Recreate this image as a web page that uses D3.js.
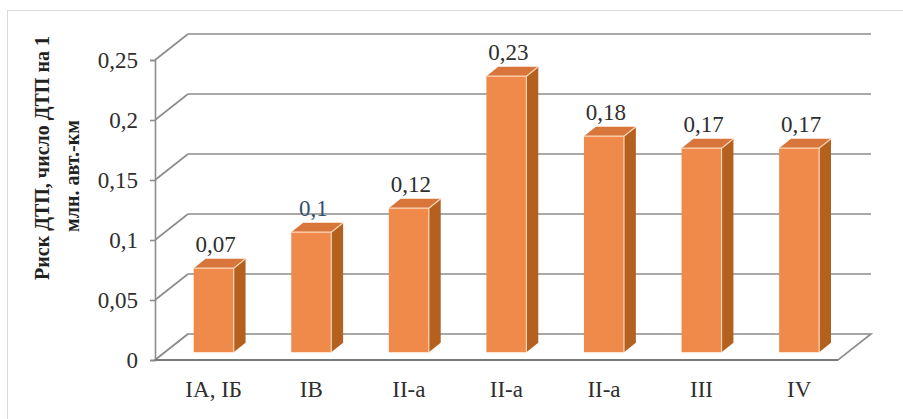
<!DOCTYPE html>
<html>
<head>
<meta charset="utf-8">
<script src="https://cdn.jsdelivr.net/npm/d3@7"></script>
<style>
  body { margin: 0; background: #fff; }
  svg { display: block; }
  text { font-family: "Liberation Serif", "Times New Roman", Times, serif; }
</style>
</head>
<body>
<svg id="chart" width="903" height="419"></svg>
<script>
const categories = ['IA, IБ', 'IВ', 'II-a', 'II-a', 'II-a', 'III', 'IV']
const values = [0.07, 0.1, 0.12, 0.23, 0.18, 0.17, 0.17]
const labels = ['0,07', '0,1', '0,12', '0,23', '0,18', '0,17', '0,17']
const yTicks = [0, 0.05, 0.1, 0.15, 0.2, 0.25]
const yTitle = ['Риск ДТП, число ДТП на 1', 'млн. авт.-км']

const gridColor = '#8c8c8c'
const frontColor = '#f08a4a'
const topColor = '#d8753a'
const sideColor = '#b4601f'
const edgeColor = '#fcd6b6'
const textColor = '#2e2e2e'
const textSize = 23

// plot frame (front plane) and depth of the box
const plotLeft = 155
const plotRight = 838
const plotBottom = 360
const plotTop = 60
const depth = [33, -26]
const barZ = [0.3, 0.66]

const proj = (x, y, z) => [x + depth[0] * z, y + depth[1] * z]

const svg = d3.select('#chart')

svg.append('rect')
  .attr('x', 7.5)
  .attr('y', 10.5)
  .attr('width', 900)
  .attr('height', 420)
  .attr('fill', '#fff')
  .attr('stroke', '#d9d9d9')

const y = d3.scaleLinear()
  .domain([0, 0.25])
  .range([plotBottom, plotTop])

const x = d3.scaleBand()
  .domain(d3.range(categories.length))
  .range([plotLeft, plotRight])
  .paddingInner(0.59)
  .paddingOuter(0.295)

// back wall gridlines and left wall diagonals
const grid = svg.append('g').classed('grid', true)
yTicks.forEach((t) => {
  const [bx, by] = proj(plotLeft, y(t), 1)
  const [ex] = proj(plotRight, y(t), 1)
  grid.append('line')
    .attr('x1', plotLeft).attr('y1', y(t))
    .attr('x2', bx).attr('y2', by)
    .attr('stroke', gridColor).attr('stroke-width', 1.6)
  if (t > 0) {
    grid.append('line')
      .attr('x1', bx).attr('y1', by)
      .attr('x2', ex).attr('y2', by)
      .attr('stroke', gridColor).attr('stroke-width', 1.6)
  }
})

// floor
const floorPts = [
  proj(plotLeft, plotBottom, 0), proj(plotRight, plotBottom, 0),
  proj(plotRight, plotBottom, 1), proj(plotLeft, plotBottom, 1)
]
svg.append('path')
  .attr('d', 'M' + floorPts.map((p) => p.join(',')).join('L') + 'Z')
  .attr('fill', '#fff')
  .attr('stroke', gridColor)
  .attr('stroke-width', 1.6)

// bars
const bars = svg.append('g').classed('bars', true)
  .selectAll('g.bar')
  .data(values)
  .enter()
  .append('g')
  .classed('bar', true)

const face = (pts) => 'M' + pts.map((p) => p.join(',')).join('L') + 'Z'

bars.each(function (d, i) {
  const g = d3.select(this)
  const x0 = x(i)
  const x1 = x(i) + x.bandwidth()
  const [z0, z1] = barZ
  const fbl = proj(x0, y(0), z0)
  const fbr = proj(x1, y(0), z0)
  const ftl = proj(x0, y(d), z0)
  const ftr = proj(x1, y(d), z0)
  const btl = proj(x0, y(d), z1)
  const btr = proj(x1, y(d), z1)
  const bbr = proj(x1, y(0), z1)
  g.append('path')
    .attr('d', face([fbr, ftr, btr, bbr]))
    .attr('fill', sideColor)
  g.append('path')
    .attr('d', face([ftl, ftr, btr, btl]))
    .attr('fill', topColor)
  g.append('path')
    .attr('d', face([fbl, ftl, ftr, fbr]))
    .attr('fill', frontColor)
  g.append('path')
    .attr('d', 'M' + [fbr, ftr, ftl].map((p) => p.join(',')).join('L') + 'M' + ftr.join(',') + 'L' + btr.join(','))
    .attr('fill', 'none')
    .attr('stroke', edgeColor)
    .attr('stroke-width', 1.2)
  g.append('text')
    .text(labels[i])
    .attr('x', (ftl[0] + ftr[0]) / 2 + 2)
    .attr('y', btl[1] - 7)
    .attr('text-anchor', 'middle')
    .attr('font-size', textSize)
    .attr('fill', i === 1 ? '#34506e' : textColor)
})

// y axis on the front plane
const yAxis = d3.axisLeft(y)
  .tickValues(yTicks)
  .tickSize(5)
  .tickPadding(12)
  .tickFormat((d) => String(d).replace('.', ','))
const ya = svg.append('g')
  .classed('y-axis', true)
  .attr('transform', 'translate(' + plotLeft + ',0)')
  .call(yAxis)
ya.attr('font-family', null)
ya.select('path.domain')
  .attr('stroke', gridColor)
  .attr('stroke-width', 1.6)
ya.selectAll('g.tick line')
  .attr('stroke', gridColor)
  .attr('stroke-width', 1.6)
ya.selectAll('g.tick text')
  .attr('font-size', textSize)
  .attr('fill', textColor)

// front floor edge drawn darker
svg.append('line')
  .attr('x1', plotLeft).attr('y1', plotBottom)
  .attr('x2', plotRight).attr('y2', plotBottom)
  .attr('stroke', '#7a7a7a')
  .attr('stroke-width', 1.8)

// category labels
svg.append('g')
  .classed('x-labels', true)
  .selectAll('text')
  .data(categories)
  .enter()
  .append('text')
  .text((d) => d)
  .attr('x', (d, i) => proj(x(i) + x.bandwidth() / 2, 0, barZ[0])[0])
  .attr('y', 397)
  .attr('text-anchor', 'middle')
  .attr('font-size', textSize)
  .attr('fill', textColor)

// y axis title
svg.append('text')
  .text(yTitle[0])
  .attr('transform', 'translate(49,158) rotate(-90)')
  .attr('text-anchor', 'middle')
  .attr('font-weight', 'bold')
  .attr('font-size', 20)
  .attr('fill', '#222')
svg.append('text')
  .text(yTitle[1])
  .attr('transform', 'translate(79,176) rotate(-90)')
  .attr('text-anchor', 'middle')
  .attr('font-weight', 'bold')
  .attr('font-size', 20)
  .attr('fill', '#222')
</script>
</body>
</html>
